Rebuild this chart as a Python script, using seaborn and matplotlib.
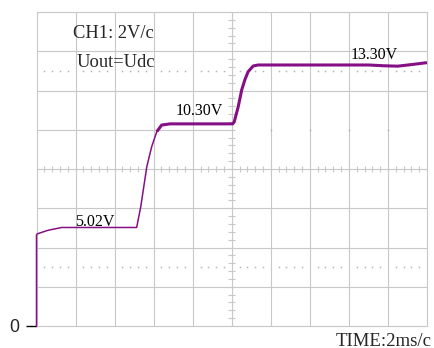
import matplotlib
matplotlib.use("Agg")
import matplotlib.pyplot as plt
import seaborn as sns
import numpy as np

# Oscilloscope capture: output voltage steps (2 V/div, 2 ms/div)
t_low = [0.0, 0.0, 0.05, 0.6, 1.3, 3.0, 5.13, 5.34, 5.65, 5.90, 6.16]
v_low = [0.0, 4.65, 4.70, 4.88, 5.02, 5.02, 5.02, 6.08, 8.12, 9.14, 9.90]

t_high = [5.90, 6.16, 6.41, 6.84, 7.5, 8.5, 9.5, 10.05, 10.13, 10.33, 10.51,
          10.68, 10.84, 11.10, 11.35, 12.0, 13.0, 14.0, 15.0, 16.0, 17.0,
          17.8, 18.5, 19.2, 20.0]
v_high = [9.14, 9.90, 10.24, 10.30, 10.30, 10.30, 10.30, 10.30, 10.41, 11.17,
          12.03, 12.57, 12.96, 13.25, 13.30, 13.30, 13.30, 13.30, 13.30, 13.30,
          13.30, 13.26, 13.24, 13.32, 13.42]

level_labels = ["5.02V", "10.30V", "13.30V"]
level_pos = [(1.98, 5.10), (7.15, 10.75), (16.08, 13.59)]

x_div = [0, 2, 4, 6, 8, 10, 12, 14, 16, 18, 20]
y_div = [0, 2, 4, 6, 8, 10, 12, 14, 16]
marker_levels = [3, 13]

sns.set_style("white")
plt.rcParams["font.family"] = ["Liberation Serif", "DejaVu Serif"]

fig = plt.figure(figsize=(4.34, 3.48), dpi=100)
ax = fig.add_axes([36.5 / 434, 22 / 348, (427 - 36.5) / 434, (326 - 12) / 348])
ax.set_xlim(0, 20)
ax.set_ylim(0, 16)

grid_c = "#c8c8c8"
# graticule
for x in x_div[1:-1]:
    ax.axvline(x, color=grid_c, lw=0.8, zorder=1)
for y in y_div[1:-1]:
    if y == 10:
        ax.hlines(y, 0, 10, color=grid_c, lw=0.8, zorder=1)
        ax.plot([10, 12, 14, 16, 18], [y] * 5, ls="none", marker="s", ms=1.0,
                mec="none", color="#a8a8a8", zorder=1)
    else:
        ax.axhline(y, color=grid_c, lw=0.8, zorder=1)

# centre-line minor ticks
minor = np.arange(0, 20.01, 0.4)
ax.hlines(np.arange(0, 16.01, 0.4), 10 - 0.17, 10 + 0.17, color=grid_c, lw=0.8, zorder=1)
ax.vlines(minor, 8 - 0.17, 8 + 0.17, color=grid_c, lw=0.8, zorder=1)

# dotted reference levels
dots = [v for i, v in enumerate(minor) if i % 5 != 0]
for lv in marker_levels:
    ax.plot(dots, [lv] * len(dots), ls="none", marker="s", ms=1.1, mec="none",
            color="#b4b4b4", zorder=1)

trace_c = "#851085"
sns.lineplot(x=t_low, y=v_low, ax=ax, color=trace_c, linewidth=1.1,
             estimator=None, sort=False, zorder=5, clip_on=False)
sns.lineplot(x=t_high[1:], y=v_high[1:], ax=ax, color=trace_c, linewidth=2.2,
             estimator=None, sort=False, zorder=5, clip_on=False,
             solid_capstyle="butt", solid_joinstyle="round")

for lab, (tx, ty) in zip(level_labels, level_pos):
    ax.text(tx, ty, lab, fontsize=11.5, ha="left", va="baseline", color="black", zorder=6)

ax.text(1.89, 14.66, "CH1: 2V/c", fontsize=13.3, ha="left", va="baseline")
ax.text(2.03, 13.21, "Uout=Udc", fontsize=13.3, ha="left", va="baseline")
fig.text(335.5 / 434, 2.5 / 348, "TIME:2ms/c", fontsize=13.5, ha="left", va="baseline")

for s in ax.spines.values():
    s.set_color(grid_c)
    s.set_linewidth(0.8)
    s.set_zorder(2)

ax.set_xticks([])
ax.set_yticks([0])
ax.set_yticklabels(["0"], family=["Liberation Sans", "DejaVu Sans"], fontsize=12.7)
ax.tick_params(axis="y", left=True, direction="out", length=8, width=1.0,
               color="black", pad=4.5)
ax.set_xlabel("")
ax.set_ylabel("")

fig.savefig("out.png", dpi=100)
